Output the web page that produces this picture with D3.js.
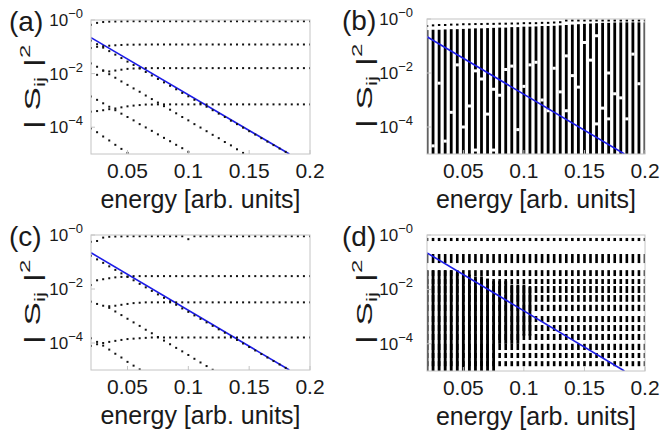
<!DOCTYPE html>
<html><head><meta charset="utf-8">
<script src="https://cdn.jsdelivr.net/npm/d3@7"></script>
<style>
body{margin:0;background:#fff}
text{font-family:"Liberation Sans",Arial,sans-serif;fill:#1a1a1a}
</style>
</head><body>
<svg id="chart" width="660" height="435"></svg>
<script>
// energy grid shared by all panels
const energies = [0.02,0.025,0.03,0.035,0.04,0.045,0.05,0.055,0.06,0.065,0.07,0.075,0.08,0.085,0.09,0.095,0.1,0.105,0.11,0.115,0.12,0.125,0.13,0.135,0.14,0.145,0.15,0.155,0.16,0.165,0.17,0.175,0.18,0.185,0.19,0.195,0.2];
const xTicks = [0.05,0.1,0.15,0.2];
const yTicks = [1,1e-2,1e-4];
const yTickExp = ["0","2","4"];

// exponential reference line (start, end)
const lineE = [0.02,0.183];
const lineS = [0.22,1e-5];

// panel (a): dotted transmission curves
const a1 = [0.66,0.78,0.84,0.87,0.88,0.89,0.9,0.9,0.9,0.9,0.9,0.9,0.9,0.9,0.9,0.9,0.9,0.9,0.9,0.9,0.9,0.9,0.9,0.9,0.9,0.9,0.9,0.9,0.9,0.9,0.9,0.9,0.9,0.9,0.9,0.9,0.9];
const a2 = [0.09,0.1,0.105,0.11,0.114,0.117,0.12,0.12,0.121,0.121,0.122,0.122,0.122,0.122,0.122,0.122,0.122,0.122,0.122,0.122,0.122,0.122,0.122,0.122,0.122,0.122,0.122,0.122,0.122,0.122,0.122,0.122,0.122,0.122,0.122,0.122,0.122];
const a3 = [null,0.009,0.013,0.012,0.013,0.014,0.015,0.0155,0.016,0.016,0.016,0.016,0.016,0.016,0.016,0.016,0.016,0.016,0.016,0.016,0.016,0.016,0.016,0.016,0.016,0.016,0.016,0.016,0.016,0.016,0.016,0.016,0.016,0.016,0.016,0.016,0.016];
const a4 = [3.8e-4,4e-4,4.3e-4,4.7e-4,5e-4,5.5e-4,6e-4,6.4e-4,6.7e-4,7e-4,7e-4,7.1e-4,7.1e-4,7.1e-4,7.1e-4,7.1e-4,7.1e-4,7.1e-4,7.1e-4,7.1e-4,7.1e-4,7.1e-4,7.1e-4,7.1e-4,7.1e-4,7.1e-4,7.1e-4,7.1e-4,7.1e-4,7.1e-4,7.1e-4,7.1e-4,7.1e-4,7.1e-4,7.1e-4,7.1e-4,7.1e-4];
const a5 = [0.17,0.125,0.093,0.069,0.051,0.038,0.028,0.021,0.0155,0.0115,0.0085,0.0063,0.0047,0.0035,0.0026,0.0019,0.00142,0.00105,7.8e-4,5.8e-4,4.3e-4,3.2e-4,2.4e-4,1.75e-4,1.3e-4,9.6e-5,7.1e-5,5.3e-5,3.9e-5,2.9e-5,2.15e-5,1.6e-5,1.2e-5,null,null,null,null];
const a6 = [0.024,0.018,0.0129,0.0095,0.007,0.0051,0.0038,0.0028,0.0021,0.00152,0.00112,8.3e-4,6.1e-4,4.5e-4,3.3e-4,2.4e-4,1.8e-4,1.3e-4,9.7e-5,7.1e-5,5.2e-5,3.9e-5,2.8e-5,2.1e-5,1.5e-5,1.1e-5,null,null,null,null,null,null,null,null,null,null,null];
const a7 = [1.4e-3,1.05e-3,7.8e-4,5.8e-4,4.3e-4,3.2e-4,2.4e-4,1.8e-4,1.3e-4,9.8e-5,7.3e-5,5.4e-5,4e-5,3e-5,2.2e-5,1.65e-5,1.2e-5,null,null,null,null,null,null,null,null,null,null,null,null,null,null,null,null,null,null,null,null];
const a8 = [9e-5,6.5e-5,4.5e-5,3.2e-5,2.2e-5,1.55e-5,1.1e-5,null,null,null,null,null,null,null,null,null,null,null,null,null,null,null,null,null,null,null,null,null,null,null,null,null,null,null,null,null,null];

// panel (c): dotted transmission curves
const c1 = [0.56,0.6,0.8,0.86,0.88,0.89,0.9,0.9,0.9,0.9,0.9,0.9,0.9,0.9,0.9,0.9,0.7,0.9,0.9,0.9,0.9,0.9,0.9,0.9,0.9,0.9,0.9,0.9,0.9,0.9,0.9,0.9,0.9,0.9,0.9,0.9,0.9];
const c2 = [0.014,0.021,0.023,0.025,0.027,0.028,0.029,0.03,0.03,0.03,0.03,0.03,0.03,0.03,0.03,0.03,0.03,0.03,0.03,0.03,0.03,0.03,0.03,0.03,0.03,0.03,0.03,0.03,0.03,0.03,0.03,0.03,0.03,0.03,0.03,0.03,0.03];
const c3 = [0.0034,0.0028,0.0024,0.0023,0.0024,0.0026,0.0028,0.003,0.0031,0.0032,0.0032,0.0032,0.0032,0.0032,0.0032,0.0032,0.0032,0.0032,0.0032,0.0032,0.0032,0.0032,0.0032,0.0032,0.0032,0.0032,0.0032,0.0032,0.0032,0.0032,0.0032,0.0032,0.0032,0.0032,0.0032,0.0032,0.0032];
const c4 = [7.8e-5,9e-5,1e-4,1.1e-4,1.2e-4,1.3e-4,1.4e-4,1.45e-4,1.5e-4,1.55e-4,1.6e-4,1.6e-4,1.6e-4,1.6e-4,1.6e-4,1.6e-4,1.6e-4,1.6e-4,1.6e-4,1.6e-4,1.6e-4,1.6e-4,1.6e-4,1.6e-4,1.6e-4,1.6e-4,1.6e-4,1.6e-4,1.6e-4,1.6e-4,1.6e-4,1.6e-4,1.6e-4,1.6e-4,1.6e-4,1.6e-4,1.6e-4];
const c5 = [0.17,0.125,0.093,0.069,0.051,0.038,0.028,0.021,0.0155,0.0115,0.0085,0.0063,0.0047,0.0035,0.0026,0.0019,0.00142,0.00105,7.8e-4,5.8e-4,4.3e-4,3.2e-4,2.4e-4,1.75e-4,1.3e-4,9.6e-5,7.1e-5,5.3e-5,3.9e-5,2.9e-5,2.15e-5,1.6e-5,1.2e-5,null,null,null,null];
const c6 = [null,null,null,2e-3,1.47e-3,1.08e-3,7.9e-4,5.8e-4,4.3e-4,3.1e-4,2.3e-4,1.67e-4,1.23e-4,9e-5,6.6e-5,4.9e-5,3.6e-5,2.6e-5,1.9e-5,1.4e-5,1.02e-5,null,null,null,null,null,null,null,null,null,null,null,null,null,null,null,null];
const c7 = [1.5e-4,1.1e-4,8e-5,5.7e-5,4e-5,2.9e-5,2e-5,1.45e-5,1.05e-5,null,null,null,null,null,null,null,null,null,null,null,null,null,null,null,null,null,null,null,null,null,null,null,null,null,null,null,null];

// panel (b): dense columns – top of the filled column, topmost isolated dot, gaps
const bTop = [0.39,0.4,0.4,0.41,0.42,0.42,0.43,0.44,0.45,0.45,0.46,0.47,0.48,0.48,0.5,0.5,0.52,0.52,0.53,0.55,0.55,0.56,0.58,0.6,0.62,0.64,0.66,0.68,0.7,0.72,0.72,0.74,0.75,0.75,0.75,0.75,0.75];
const bCap = [0.55,0.58,0.6,0.6,0.62,0.62,0.64,0.64,0.65,0.65,0.66,0.66,0.67,0.67,0.68,0.68,0.7,0.7,0.7,0.72,0.72,0.74,0.76,0.88,0.88,0.88,0.88,0.88,0.88,0.88,0.88,0.88,0.88,0.88,0.88,0.88,0.88];
const bGapE = [0.03,0.04,0.06,0.085,0.09,0.075,0.1,0.025,0.06,0.075,0.135,0.15,0.16,0.17,0.175,0.12,0.135,0.16,0.11,0.055,0.095,0.145,0.185,0.19,0.045,0.065,0.08,0.105,0.115,0.125,0.14,0.155,0.165,0.18,0.195,0.05,0.035,0.07,0.13,0.17];
const bGapS = [4.2e-3,3.5e-4,1.2e-2,1.35e-2,1.8e-2,2.5e-3,3.2e-3,2e-5,1.4e-5,1.4e-5,4.3e-2,1.35e-1,2.4e-1,1e-2,1.7e-3,4e-4,4e-4,1.3e-4,2.5e-2,6e-4,8e-5,3e-3,2e-4,5e-2,2e-2,6e-3,1.5e-3,2e-2,1e-3,1.5e-2,8e-3,3e-2,5e-4,1.2e-3,4e-3,1e-4,3e-5,3e-4,2e-3,2e-4];

// panel (d): recurring bands and filled low-energy region
const dBandLo = [0.6,0.093,0.031,0.0158,0.0074,0.0035,0.0016,6.3e-4,2.95e-4,1.38e-4,5.9e-5,3e-5,1.5e-5];
const dBandHi = [0.78,0.2,0.051,0.024,0.0133,0.0062,0.0027,1.05e-3,4.9e-4,2.3e-4,1e-4,4.6e-5,2.3e-5];
const dFillTop = [0.05,0.05,0.05,0.05,0.05,0.04,0.035,0.035,0.03,0.03,0.025,0.02,0.02,0.02,0.015,0.015,0.015,0.012,null,null,null,null,null,null,null,null,null,null,null,null,null,null,null,null,null,null,null];
const dFillBot = [1e-5,1e-5,1e-5,1e-5,1e-5,1e-5,1e-5,1e-5,1e-5,1e-5,1e-5,1e-5,1e-4,1e-4,1e-4,1e-4,2e-4,2e-4,null,null,null,null,null,null,null,null,null,null,null,null,null,null,null,null,null,null,null];

const panels = [
  {key:"a", x0:91, x1:310, y0:20, y1:154, labOff:8, titleX:40, letterX:9, kind:"dots", series:[a1,a2,a3,a4,a5,a6,a7,a8]},
  {key:"b", x0:427, x1:645, y0:19, y1:154, labOff:14, titleX:372, letterX:342, kind:"cols"},
  {key:"c", x0:91, x1:310, y0:235, y1:370, labOff:8, titleX:40, letterX:9, kind:"dots", series:[c1,c2,c3,c4,c5,c6,c7]},
  {key:"d", x0:427, x1:645, y0:235, y1:371, labOff:14, titleX:372, letterX:342, kind:"bands"}
];

const svg = d3.select("#chart");
const defs = svg.append("defs");

panels.forEach(p => {
  const x = d3.scaleLinear().domain([0.02,0.2]).range([p.x0,p.x1]);
  const y = d3.scaleLog().domain([1e-5,1]).range([p.y1,p.y0]);
  const g = svg.append("g");
  const clipId = "clip-"+p.key;
  defs.append("clipPath").attr("id",clipId).append("rect")
    .attr("x",p.x0).attr("y",p.y0).attr("width",p.x1-p.x0).attr("height",p.y1-p.y0);
  const plot = g.append("g").attr("clip-path",`url(#${clipId})`);

  const refLine = () => plot.append("path")
    .attr("d", d3.line().x(d=>x(d[0])).y(d=>y(d[1]))(lineE.map((e,i)=>[e,lineS[i]])))
    .attr("fill","none").attr("stroke","#1c1ce8").attr("stroke-width",1.6);

  if (p.kind === "dots") {
    refLine();
    p.series.forEach(s => {
      plot.selectAll(null).data(energies.map((e,i)=>[e,s[i]]).filter(d=>d[1]!=null))
        .join("rect").attr("x",d=>x(d[0])-1).attr("y",d=>y(d[1])-1)
        .attr("width",2).attr("height",2).attr("fill","#111");
    });
  } else if (p.kind === "cols") {
    const cols = energies.map((e,i)=>({e, top:bTop[i], cap:bCap[i]}));
    plot.selectAll(null).data(cols).join("rect")
      .attr("x",d=>x(d.e)-1.4).attr("width",2.8)
      .attr("y",d=>y(d.top)).attr("height",d=>p.y1-y(d.top)).attr("fill","#000");
    plot.selectAll(null).data(cols).join("rect")
      .attr("x",d=>x(d.e)-1.2).attr("width",2.4)
      .attr("y",d=>y(d.cap)-1).attr("height",2).attr("fill","#000");
    plot.selectAll(null).data(bGapE.map((e,i)=>[e,bGapS[i]])).join("rect")
      .attr("x",d=>x(d[0])-1.6).attr("width",3.2)
      .attr("y",d=>y(d[1])-1.5).attr("height",3).attr("fill","#fff");
    refLine();
  } else {
    const bands = dBandLo.map((lo,i)=>[lo,dBandHi[i]]);
    energies.forEach((e,i) => {
      plot.selectAll(null).data(bands).join("rect")
        .attr("x",x(e)-1.3).attr("width",2.6)
        .attr("y",d=>y(d[1])).attr("height",d=>y(d[0])-y(d[1])).attr("fill","#000");
      if (dFillTop[i] != null) {
        plot.append("rect").attr("x",x(e)-1.4).attr("width",2.8)
          .attr("y",y(dFillTop[i])).attr("height",y(dFillBot[i])-y(dFillTop[i])).attr("fill","#000");
      }
    });
    refLine();
  }

  // frame
  g.append("rect").attr("x",p.x0).attr("y",p.y0).attr("width",p.x1-p.x0).attr("height",p.y1-p.y0)
    .attr("fill","none").attr("stroke","#c4c4c4").attr("stroke-width",1);

  // inward ticks
  g.selectAll(null).data(yTicks).join("line")
    .attr("x1",p.x0).attr("x2",p.x0+4).attr("y1",d=>y(d)).attr("y2",d=>y(d))
    .attr("stroke","#c4c4c4");
  g.selectAll(null).data(xTicks).join("line")
    .attr("x1",d=>x(d)).attr("x2",d=>x(d)).attr("y1",p.y1).attr("y2",p.y1-4)
    .attr("stroke","#c4c4c4");

  // y tick labels 10^-n
  yTicks.forEach((t,i) => {
    const tx = g.append("text").attr("x",p.x0-p.labOff).attr("y",y(t)+6)
      .attr("text-anchor","end").attr("font-size",17);
    tx.append("tspan").text("10");
    tx.append("tspan").attr("dy",-8).attr("font-size",13).text("\u2212"+yTickExp[i]);
  });

  // x tick labels
  g.selectAll(null).data(xTicks).join("text")
    .attr("x",d=>x(d)).attr("y",p.y1+24).attr("text-anchor","middle").attr("font-size",21)
    .text(d=>d3.format("~g")(d));

  // axis titles
  g.append("text").attr("x",(p.x0+p.x1)/2).attr("y",p.y1+54).attr("text-anchor","middle")
    .attr("font-size",25).text("energy [arb. units]");
  const yl = g.append("text")
    .attr("transform",`translate(${p.titleX},${p.y0+67}) rotate(-90) scale(1.6,1)`)
    .attr("text-anchor","middle").attr("font-size",22);
  yl.append("tspan").text("| S");
  yl.append("tspan").attr("dy",5).attr("font-size",14).text("ij");
  yl.append("tspan").attr("dy",-5).text(" |");
  yl.append("tspan").attr("dy",-10).attr("font-size",15).text("2");

  // panel letter
  g.append("text").attr("x",p.letterX).attr("y",p.y0+11).attr("font-size",28).text(`(${p.key})`);
});
</script>
</body></html>
